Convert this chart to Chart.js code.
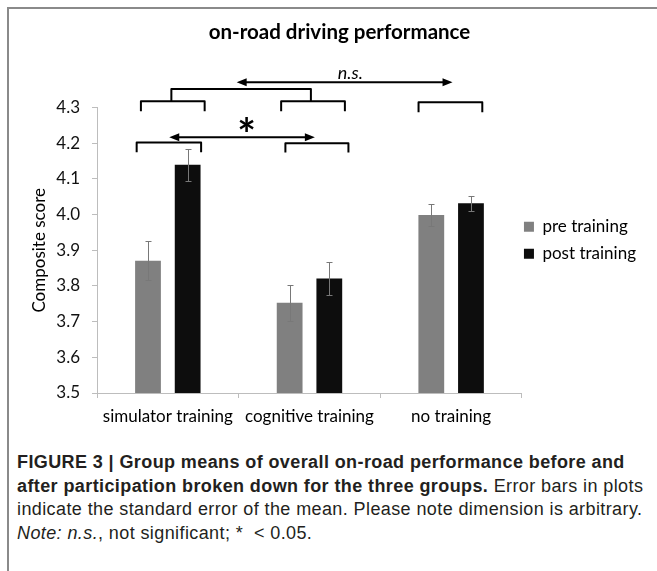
<!DOCTYPE html>
<html>
<head>
<meta charset="utf-8">
<script src="https://cdn.jsdelivr.net/npm/chart.js@4.4.1/dist/chart.umd.min.js"></script>
<style>
  html, body { margin: 0; padding: 0; background: #fff; }
  body { width: 657px; height: 571px; overflow: hidden; position: relative; }
  .frame { position: absolute; left: 7px; top: 7px; width: 700px; height: 600px; border-left: 2px solid #8a8a8a; border-top: 2px solid #8a8a8a; }
  #wrap { position: absolute; left: 9px; top: 9px; width: 648px; height: 421px; }
  .caption { position: absolute; left: 17px; top: 451px; font-family: "Liberation Sans", Arial, sans-serif; font-size: 18px; letter-spacing: 0.4px; line-height: 23.7px; color: #231f20; white-space: nowrap; }
</style>
</head>
<body>
<div class="frame"></div>
<div id="wrap"><canvas id="chart" width="648" height="421"></canvas></div>
<div class="caption">
  <b>FIGURE 3 | Group means of overall on-road performance before and</b><br>
  <b>after participation broken down for the three groups.</b> Error bars in plots<br>
  indicate the standard error of the mean. Please note dimension is arbitrary.<br>
  <i>Note: n.s.</i>, not significant; *&nbsp; &lt; 0.05.
</div>
<script>
const groups = ['simulator training', 'cognitive training', 'no training'];
const preTraining = [3.871, 3.753, 3.999];
const postTraining = [4.140, 3.821, 4.032];
const preError = [0.055, 0.050, 0.030];
const postError = [0.045, 0.046, 0.021];
const yTickValues = [3.5, 3.6, 3.7, 3.8, 3.9, 4.0, 4.1, 4.2, 4.3];

Chart.defaults.font.family = 'Lato';
Chart.defaults.font.size = 17;
Chart.defaults.color = '#111';

const axisGray = '#bdbdbd';

// error bars, significance brackets and arrows
const marks = {
  id: 'marks',
  afterLayout(chart) {
    // pull the legend in next to the plot, like the original
    const lg = chart.legend;
    lg.left = chart.chartArea.right - 8;
    lg.right = lg.left + lg.width;
    lg.top -= 10;
    lg.bottom -= 10;
  },
  afterDatasetsDraw(chart) {
    const { ctx } = chart;
    const y = chart.scales.y;
    ctx.save();
    ctx.strokeStyle = '#787878';
    ctx.lineWidth = 1;
    chart.data.datasets.forEach((ds, di) => {
      chart.getDatasetMeta(di).data.forEach((bar, i) => {
        const v = ds.data[i], e = ds.errors[i];
        const top = Math.round(y.getPixelForValue(v + e)) + 0.5;
        const bot = Math.round(y.getPixelForValue(v - e)) + 0.5;
        const x = Math.round(bar.x) + 0.5;
        ctx.beginPath();
        ctx.moveTo(x, top); ctx.lineTo(x, bot);
        ctx.moveTo(x - 3, top); ctx.lineTo(x + 3, top);
        ctx.moveTo(x - 3, bot); ctx.lineTo(x + 3, bot);
        ctx.stroke();
      });
    });
    ctx.restore();
  },
  afterDraw(chart) {
    const { ctx } = chart;
    const px = v => chart.scales.x.getPixelForValue(v);
    const py = v => chart.scales.y.getPixelForValue(v);
    ctx.save();
    ctx.strokeStyle = '#000';
    ctx.fillStyle = '#000';
    ctx.lineWidth = 2;
    ctx.lineJoin = 'round';

    const bracket = (x0, x1, yTop, yLeg) => {
      ctx.beginPath();
      ctx.moveTo(px(x0), py(yLeg));
      ctx.lineTo(px(x0), py(yTop));
      ctx.lineTo(px(x1), py(yTop));
      ctx.lineTo(px(x1), py(yLeg));
      ctx.stroke();
    };
    const arrow = (x0, x1, yv) => {
      const a = px(x0), b = px(x1), yy = py(yv);
      ctx.beginPath();
      ctx.moveTo(a + 6, yy); ctx.lineTo(b - 6, yy);
      ctx.stroke();
      ctx.beginPath();
      ctx.moveTo(a, yy); ctx.lineTo(a + 10, yy - 4); ctx.lineTo(a + 10, yy + 4); ctx.closePath();
      ctx.moveTo(b, yy); ctx.lineTo(b - 10, yy - 4); ctx.lineTo(b - 10, yy + 4); ctx.closePath();
      ctx.fill();
    };

    // group brackets
    bracket(-0.19, 0.26, 4.318, 4.29);
    bracket(0.80, 1.25, 4.318, 4.29);
    bracket(1.77, 2.22, 4.315, 4.287);
    bracket(-0.22, 0.235, 4.202, 4.175);
    bracket(0.83, 1.275, 4.200, 4.174);

    // joint bracket over simulator + cognitive
    ctx.beginPath();
    ctx.moveTo(px(0.025), py(4.318));
    ctx.lineTo(px(0.025), py(4.352));
    ctx.lineTo(px(1.01), py(4.352));
    ctx.lineTo(px(1.01), py(4.318));
    ctx.stroke();

    arrow(0.486, 2.01, 4.371);
    arrow(0.01, 1.038, 4.217);

    ctx.textAlign = 'center';
    ctx.textBaseline = 'middle';
    ctx.font = 'italic 18px Lato';
    ctx.fillText('n.s.', px(1.288), py(4.397));

    ctx.font = 'bold 44px Lato';
    ctx.textBaseline = 'alphabetic';
    const m = ctx.measureText('*');
    const cy = py(4.2525);
    ctx.fillText('*', px(0.556), cy + (m.actualBoundingBoxAscent - m.actualBoundingBoxDescent) / 2);
    ctx.restore();
  }
};

new Chart(document.getElementById('chart'), {
  type: 'bar',
  data: {
    labels: groups,
    datasets: [
      { label: 'pre training', data: preTraining, errors: preError, backgroundColor: '#808080',
        categoryPercentage: 0.56, barPercentage: 0.65 },
      { label: 'post training', data: postTraining, errors: postError, backgroundColor: '#0d0d0d',
        categoryPercentage: 0.56, barPercentage: 0.65 }
    ]
  },
  options: {
    responsive: false,
    animation: false,
    layout: { padding: { left: 16, right: 3, top: 0, bottom: 0 } },
    plugins: {
      title: {
        display: true,
        text: 'on-road driving performance',
        color: '#000',
        font: { size: 20.5, weight: 'bold' },
        padding: { top: 11, bottom: 63 }
      },
      legend: {
        position: 'right',
        fullSize: false,
        labels: { boxWidth: 10, boxHeight: 10, padding: 10, color: '#000' }
      },
      tooltip: { enabled: false }
    },
    scales: {
      x: {
        grid: { offset: true, drawOnChartArea: false, tickLength: 5, color: axisGray },
        border: { color: axisGray },
        ticks: { padding: 8, color: '#000' },
        afterFit: s => { s.height = 37; }
      },
      y: {
        min: 3.5,
        max: 4.3,
        afterBuildTicks: s => { s.ticks = yTickValues.map(v => ({ value: v })); },
        grid: { drawOnChartArea: false, tickLength: 5, color: axisGray },
        border: { color: axisGray },
        ticks: { padding: 12, color: '#111', callback: v => v.toFixed(1) },
        title: { display: true, text: 'Composite score', color: '#000' },
        afterFit: s => { s.width = 72; }
      }
    }
  },
  plugins: [marks]
});
</script>
</body>
</html>
